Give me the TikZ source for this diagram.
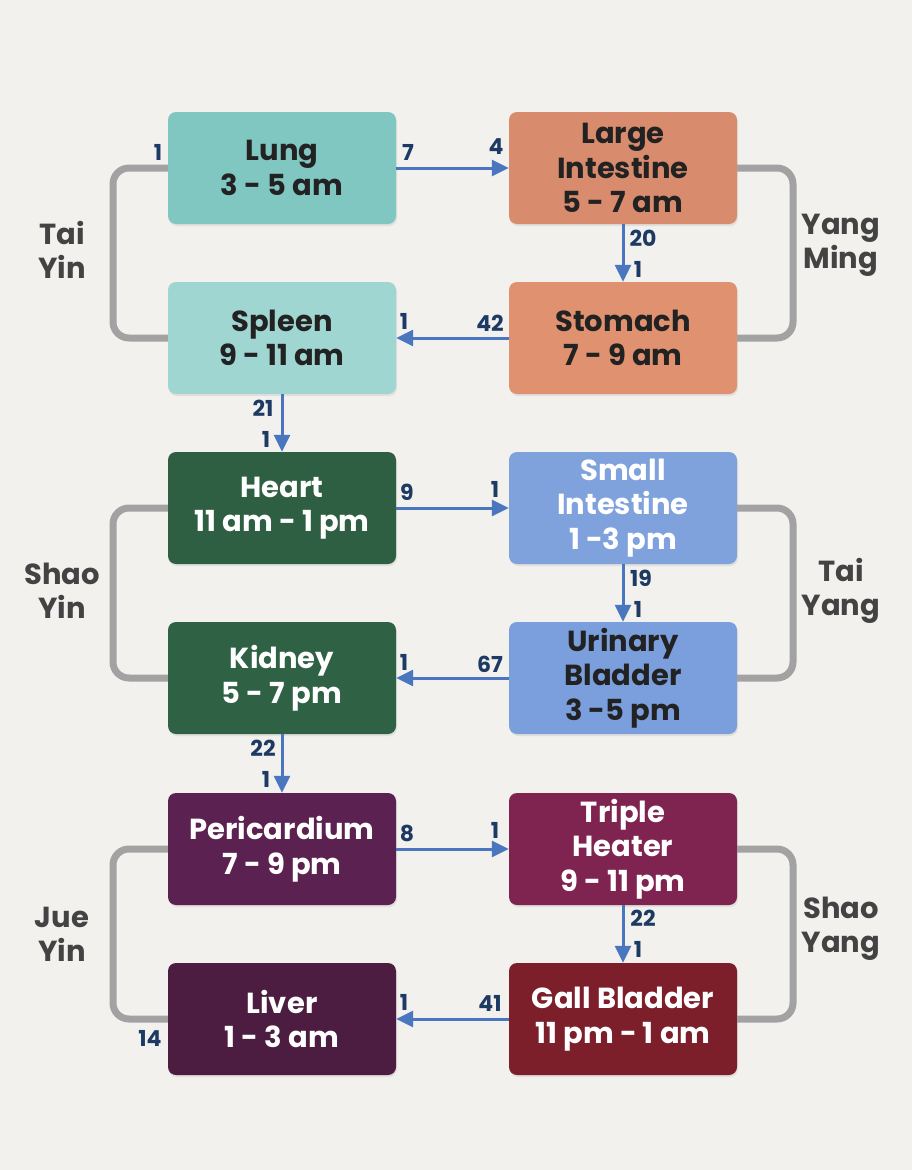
\documentclass[tikz,border=0pt]{standalone}
\usepackage{fontspec}
\setmainfont{Poppins}
\usetikzlibrary{arrows.meta,shadows}
\definecolor{bg}{HTML}{F2F1EE}
\definecolor{cLung}{HTML}{80C6C1}
\definecolor{cSpleen}{HTML}{A0D6D2}
\definecolor{cLI}{HTML}{D98B6E}
\definecolor{cSt}{HTML}{E0916F}
\definecolor{cHeart}{HTML}{2F5F42}
\definecolor{cKid}{HTML}{2F6145}
\definecolor{cSI}{HTML}{7FA2DD}
\definecolor{cUB}{HTML}{7B9FDC}
\definecolor{cPer}{HTML}{5B2150}
\definecolor{cTH}{HTML}{7F2450}
\definecolor{cLiv}{HTML}{4C1D41}
\definecolor{cGB}{HTML}{7C1F2B}
\definecolor{arrowc}{HTML}{4A76C0}
\definecolor{numc}{HTML}{1C3A63}
\definecolor{grayline}{HTML}{A2A2A2}
\definecolor{labc}{HTML}{434343}
\definecolor{darktext}{HTML}{222222}
\tikzset{
  organ/.style={rectangle, rounded corners=8pt, minimum width=228pt, minimum height=112pt,
    align=center, inner sep=0pt, font=\bfseries\fontsize{29}{34.5}\selectfont,
    drop shadow={opacity=0.15, shadow xshift=1pt, shadow yshift=-2pt}},
  arr/.style={draw=arrowc, line width=3pt, -{Triangle[length=17pt,width=16pt]}},
  bracket/.style={draw=grayline, line width=7pt, rounded corners=16pt},
  num/.style={text=numc, font=\bfseries\fontsize{22}{24}\selectfont, inner sep=0pt},
  meridian/.style={text=labc, align=center, font=\bfseries\fontsize{29}{34}\selectfont, inner sep=0pt}
}
\begin{document}
\begin{tikzpicture}[x=1pt,y=-1pt]
\useasboundingbox (0,0) rectangle (912,1170);
\fill[bg] (0,0) rectangle (912,1170);

% bracket corner points
\coordinate (bl1) at (113,168);
\coordinate (br1) at (793,168);
\coordinate (bl2) at (113,508);
\coordinate (br2) at (793,508);
\coordinate (bl3) at (113,849);
\coordinate (br3) at (793,849);

% boxes
\node[organ, fill=cLung, text=darktext] (lung) at (282,168) {Lung\\3 - 5 am};
\node[organ, fill=cLI, text=darktext] (li) at (623,168) {Large\\Intestine\\5 - 7 am};
\node[organ, fill=cSpleen, text=darktext] (spleen) at (282,338) {Spleen\\9 - 11 am};
\node[organ, fill=cSt, text=darktext] (stomach) at (623,338) {Stomach\\7 - 9 am};
\node[organ, fill=cHeart, text=white] (heart) at (282,508) {Heart\\11 am - 1 pm};
\node[organ, fill=cSI, text=white] (si) at (623,508) {Small\\Intestine\\1 -3 pm};
\node[organ, fill=cKid, text=white] (kidney) at (282,678) {Kidney\\5 - 7 pm};
\node[organ, fill=cUB, text=darktext] (ub) at (623,678) {Urinary\\Bladder\\3 -5 pm};
\node[organ, fill=cPer, text=white] (peri) at (282,849) {Pericardium\\7 - 9 pm};
\node[organ, fill=cTH, text=white] (th) at (623,849) {Triple\\Heater\\9 - 11 pm};
\node[organ, fill=cLiv, text=white] (liver) at (282,1019) {Liver\\1 - 3 am};
\node[organ, fill=cGB, text=white] (gb) at (623,1019) {Gall Bladder\\11 pm - 1 am};

% gray brackets
\draw[bracket] (lung.west) -- (bl1) -- (bl1 |- spleen.west) -- (spleen.west);
\draw[bracket] (li.east) -- (br1) -- (br1 |- stomach.east) -- (stomach.east);
\draw[bracket] (heart.west) -- (bl2) -- (bl2 |- kidney.west) -- (kidney.west);
\draw[bracket] (si.east) -- (br2) -- (br2 |- ub.east) -- (ub.east);
\draw[bracket] (peri.west) -- (bl3) -- (bl3 |- liver.west) -- (liver.west);
\draw[bracket] (th.east) -- (br3) -- (br3 |- gb.east) -- (gb.east);

% arrows
\draw[arr] (lung.east) -- (li.west);
\draw[arr] (li.south) -- (stomach.north);
\draw[arr] (stomach.west) -- (spleen.east);
\draw[arr] (spleen.south) -- (heart.north);
\draw[arr] (heart.east) -- (si.west);
\draw[arr] (si.south) -- (ub.north);
\draw[arr] (ub.west) -- (kidney.east);
\draw[arr] (kidney.south) -- (peri.north);
\draw[arr] (peri.east) -- (th.west);
\draw[arr] (th.south) -- (gb.north);
\draw[arr] (gb.west) -- (liver.east);

% meridian labels
\node[meridian] (taiyin) at (62,250) {Tai\\Yin};
\node[meridian] (yangming) at (841,245) {Yang\\Ming};
\node[meridian] (shaoyin) at (62,591) {Shao\\Yin};
\node[meridian] (taiyang) at (841,591) {Tai\\Yang};
\node[meridian] (jueyin) at (62,934) {Jue\\Yin};
\node[meridian] (shaoyang) at (841,929) {Shao\\Yang};

% point numbers
\node[num] (n1) at (158,152) {1};
\node[num] (n2) at (408,152) {7};
\node[num] (n3) at (496,147) {4};
\node[num] (n4) at (643,238) {20};
\node[num] (n5) at (638,269) {1};
\node[num] (n6) at (404,321) {1};
\node[num] (n7) at (490,323) {42};
\node[num] (n8) at (263,408) {21};
\node[num] (n9) at (266,439) {1};
\node[num] (n10) at (407,492) {9};
\node[num] (n11) at (495,489) {1};
\node[num] (n12) at (641,578) {19};
\node[num] (n13) at (638,609) {1};
\node[num] (n14) at (404,662) {1};
\node[num] (n15) at (490,664) {67};
\node[num] (n16) at (263,748) {22};
\node[num] (n17) at (266,779) {1};
\node[num] (n18) at (407,833) {8};
\node[num] (n19) at (495,830) {1};
\node[num] (n20) at (643,918) {22};
\node[num] (n21) at (638,949) {1};
\node[num] (n22) at (404,1002) {1};
\node[num] (n23) at (490,1003) {41};
\node[num] (n24) at (150,1038) {14};
\end{tikzpicture}
\end{document}
